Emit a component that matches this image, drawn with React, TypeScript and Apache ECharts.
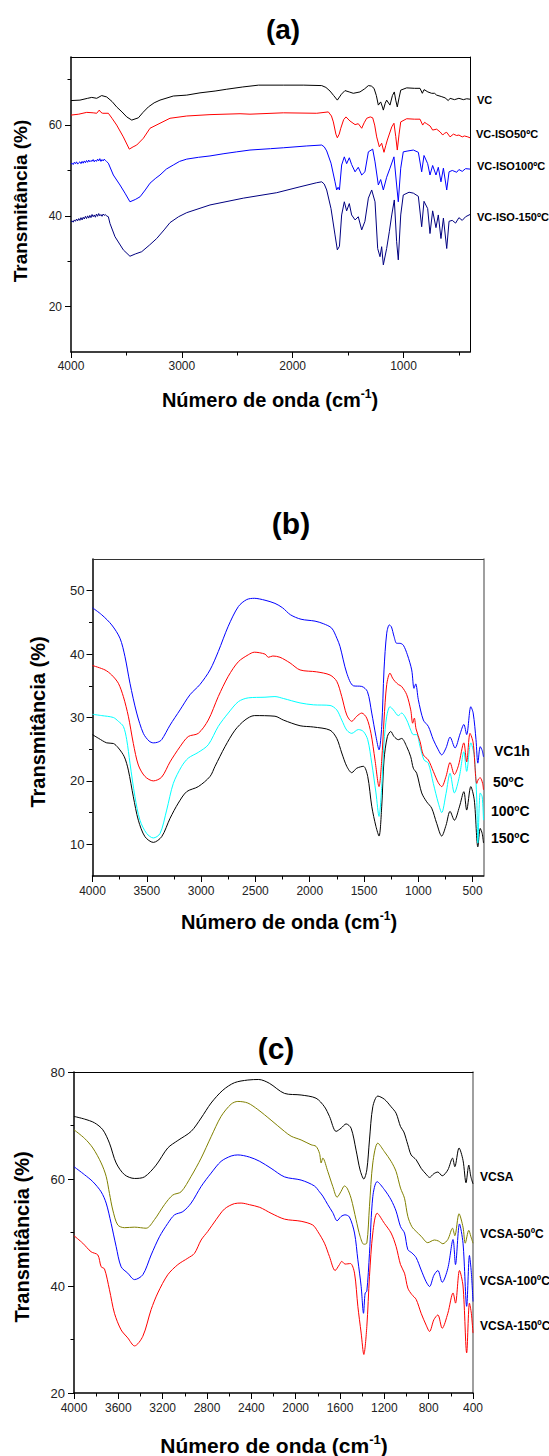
import React, { useEffect, useRef } from "react";
import * as echarts from "echarts";

const FONT = "'Liberation Sans', Arial, Helvetica, sans-serif";

// ---------- Chart (a) ----------
const aVC = [[4000,65.4],[3919,65.5],[3850,65.9],[3813,66.1],[3768,65.9],[3723,66.5],[3678,66.2],[3630,65.2],[3588,64.0],[3540,62.9],[3497,61.8],[3452,61.1],[3392,61.6],[3350,62.8],[3302,64.0],[3250,64.9],[3197,65.5],[3077,66.4],[2956,66.6],[2836,67.1],[2700,67.5],[2595,67.9],[2450,68.4],[2308,68.8],[2084,68.8],[1900,68.8],[1738,68.7],[1700,68.3],[1663,67.5],[1630,66.5],[1597,65.5],[1560,66.8],[1528,67.6],[1490,67.3],[1453,67.0],[1393,67.3],[1350,68.0],[1317,68.7],[1290,68.6],[1266,68.1],[1245,66.5],[1227,64.4],[1206,65.1],[1190,64.0],[1182,63.3],[1165,64.8],[1152,65.5],[1122,64.4],[1100,66.5],[1083,67.3],[1070,65.5],[1056,64.0],[1040,66.0],[1025,67.7],[971,68.2],[900,68.1],[851,68.1],[830,67.0],[815,67.8],[806,67.7],[780,67.3],[746,67.0],[720,67.0],[701,66.6],[660,66.3],[625,66.0],[596,65.4],[580,65.9],[540,65.6],[500,65.9],[460,65.6],[430,65.8],[400,65.7]];
const aISO50 = [[4000,62.2],[3930,62.4],[3858,62.8],[3800,62.7],[3768,62.6],[3745,63.3],[3730,62.8],[3714,62.6],[3663,62.6],[3630,61.5],[3588,60.0],[3528,57.4],[3474,54.7],[3440,55.2],[3407,55.6],[3347,57.1],[3287,59.3],[3197,60.4],[3107,61.5],[2956,62.0],[2746,62.3],[2475,62.5],[2385,62.4],[2084,62.7],[1783,62.6],[1678,62.9],[1650,62.0],[1633,60.7],[1610,58.0],[1597,57.2],[1580,58.0],[1566,59.3],[1540,61.2],[1519,61.8],[1483,60.9],[1437,60.1],[1408,60.3],[1377,59.3],[1355,60.5],[1332,61.5],[1300,61.8],[1278,61.6],[1260,60.0],[1242,57.4],[1218,55.2],[1197,56.0],[1176,54.0],[1160,55.5],[1146,56.7],[1106,59.6],[1086,60.4],[1070,57.5],[1056,54.5],[1040,58.0],[1025,60.7],[971,61.4],[900,61.3],[851,61.3],[827,60.0],[810,60.6],[791,60.3],[760,59.8],[737,58.9],[701,59.1],[670,58.5],[646,57.8],[630,58.2],[610,58.4],[580,57.4],[550,58.0],[520,57.7],[500,57.8],[470,57.4],[450,57.6],[420,57.4],[400,57.2]];
const aISO100 = [[4000,51.4],[3990,51.6],[3980,51.3],[3970,51.8],[3960,51.5],[3950,51.9],[3940,51.4],[3930,51.7],[3920,51.9],[3910,51.5],[3900,52.0],[3890,51.6],[3880,52.1],[3870,51.7],[3860,52.2],[3850,51.8],[3840,52.3],[3830,51.9],[3820,52.2],[3810,52.0],[3800,52.4],[3790,51.9],[3780,52.3],[3770,52.0],[3760,52.5],[3750,52.1],[3740,52.6],[3730,52.0],[3720,52.4],[3710,52.1],[3700,52.5],[3690,52.2],[3680,52.0],[3663,51.6],[3618,49.0],[3558,46.8],[3513,45.0],[3468,43.1],[3420,43.6],[3377,44.2],[3330,45.7],[3287,47.2],[3240,48.2],[3197,49.0],[3140,50.3],[3077,51.2],[3020,52.0],[2956,52.5],[2850,52.9],[2746,53.2],[2620,53.7],[2505,54.1],[2385,54.5],[2200,54.8],[2084,55.0],[1873,55.4],[1738,55.6],[1715,55.2],[1693,54.3],[1654,51.6],[1618,47.5],[1603,45.7],[1590,46.3],[1578,45.7],[1558,51.2],[1534,53.0],[1513,51.5],[1489,52.8],[1468,51.3],[1437,49.7],[1408,50.7],[1377,49.0],[1348,49.7],[1317,54.1],[1278,54.7],[1257,51.9],[1227,46.8],[1206,48.0],[1182,45.7],[1152,48.5],[1122,50.5],[1086,53.0],[1062,46.8],[1047,43.1],[1025,50.5],[1002,54.1],[960,54.3],[911,54.5],[866,54.0],[836,49.7],[815,53.3],[782,51.5],[761,49.0],[737,51.1],[707,49.0],[686,50.7],[662,47.5],[640,50.5],[610,45.7],[589,49.7],[560,50.0],[520,49.6],[500,50.2],[470,49.8],[440,50.4],[400,50.3]];
const aISO150 = [[4000,38.7],[3990,38.9],[3980,38.6],[3970,39.1],[3960,38.8],[3950,39.3],[3940,38.9],[3930,39.4],[3920,39.0],[3910,39.6],[3900,39.1],[3890,39.7],[3880,39.3],[3870,39.9],[3860,39.4],[3850,40.0],[3840,39.5],[3830,40.1],[3820,39.6],[3810,40.3],[3800,39.8],[3790,40.2],[3780,39.7],[3770,40.4],[3760,39.9],[3750,40.5],[3740,40.0],[3730,40.3],[3720,39.9],[3710,40.4],[3700,40.1],[3690,40.3],[3680,40.0],[3663,39.8],[3648,38.3],[3603,35.4],[3528,32.5],[3468,31.1],[3420,31.6],[3362,32.1],[3290,33.6],[3227,35.0],[3160,36.9],[3107,38.5],[3030,39.8],[2956,40.7],[2746,42.4],[2445,43.9],[2144,45.1],[1934,46.4],[1783,47.3],[1738,47.5],[1715,47.0],[1693,45.7],[1654,41.6],[1618,35.8],[1597,32.5],[1578,33.3],[1558,40.2],[1534,43.1],[1513,41.1],[1489,42.7],[1468,40.2],[1437,39.1],[1408,39.8],[1377,36.9],[1348,38.8],[1317,43.9],[1287,45.7],[1257,43.1],[1233,32.8],[1212,31.0],[1197,33.2],[1182,29.2],[1152,32.8],[1128,36.5],[1106,40.2],[1083,43.5],[1062,34.3],[1047,30.3],[1025,40.2],[1002,44.6],[950,45.2],[911,45.0],[866,44.3],[836,37.6],[815,43.2],[782,41.6],[761,36.1],[737,41.1],[707,37.4],[686,40.2],[662,35.0],[640,39.5],[610,32.8],[589,38.8],[560,39.0],[530,38.4],[500,39.6],[470,39.0],[440,39.8],[400,40.3]];
const aXMajor = [4000, 3000, 2000, 1000];
const aXMinor = [3500, 2500, 1500, 500];
const aYMajor = [20, 40, 60];
const aYMinor = [30, 50, 70];
const aNames = ["VC", "VC-ISO50ºC", "VC-ISO100ºC", "VC-ISO-150ºC"];

// ---------- Chart (b) ----------
const bVC1h = [[4000,47.3],[3915,46.2],[3823,44.6],[3747,42.5],[3701,39.6],[3655,35.4],[3593,30.7],[3532,27.5],[3480,26.3],[3440,26.0],[3400,26.1],[3363,26.5],[3286,28.8],[3194,31.2],[3102,33.6],[3011,35.2],[2918,37.5],[2842,40.4],[2750,44.4],[2657,47.5],[2580,48.6],[2510,48.8],[2412,48.5],[2320,48.0],[2250,47.3],[2177,46.2],[2080,45.5],[1951,45.2],[1875,44.8],[1798,44.1],[1750,42.5],[1721,41.2],[1659,37.0],[1598,35.0],[1521,34.9],[1469,34.1],[1429,30.7],[1390,27.0],[1362,24.9],[1337,28.6],[1316,37.5],[1291,43.3],[1267,44.6],[1248,44.3],[1224,42.8],[1199,41.7],[1169,41.7],[1138,41.4],[1101,39.9],[1061,37.5],[1040,34.6],[1024,35.3],[1000,32.8],[954,29.6],[908,28.6],[862,26.5],[816,24.9],[785,24.1],[745,25.2],[708,26.9],[662,25.2],[616,27.4],[581,28.9],[555,27.3],[517,31.7],[495,30.7],[469,26.5],[452,22.8],[430,25.4],[412,24.8],[400,23.8]];
const b50 = [[4000,38.2],[3885,37.5],[3823,36.7],[3762,35.4],[3716,33.3],[3670,30.2],[3624,25.9],[3578,22.5],[3517,20.7],[3440,20.0],[3363,20.6],[3286,23.0],[3194,25.4],[3118,27.0],[3026,27.5],[2934,29.6],[2842,33.3],[2750,36.5],[2657,38.8],[2565,39.9],[2510,40.3],[2412,40.0],[2380,39.5],[2340,39.7],[2274,39.5],[2181,38.6],[2089,37.5],[1936,37.2],[1813,36.7],[1751,35.7],[1705,33.3],[1659,30.4],[1613,29.4],[1567,30.2],[1521,30.7],[1475,29.9],[1436,27.5],[1399,23.3],[1362,19.1],[1337,23.3],[1316,29.6],[1291,35.2],[1261,37.0],[1237,36.2],[1215,35.7],[1184,35.2],[1154,34.9],[1107,33.6],[1070,31.2],[1052,29.1],[1037,29.9],[1021,28.2],[984,26.2],[954,24.1],[908,23.3],[862,21.5],[816,19.7],[785,19.1],[745,20.7],[708,22.9],[668,21.0],[631,22.4],[581,26.0],[555,23.0],[524,27.5],[495,26.0],[462,19.6],[446,20.3],[430,20.5],[408,19.6],[400,18.6]];
const b100 = [[4000,30.5],[3915,30.3],[3808,30.0],[3762,29.4],[3716,28.6],[3685,26.5],[3655,22.8],[3609,17.5],[3563,13.8],[3501,11.7],[3440,11.0],[3378,11.7],[3317,15.4],[3256,19.6],[3179,22.3],[3118,23.6],[3026,24.5],[2934,25.7],[2842,28.6],[2750,30.7],[2657,32.5],[2565,33.1],[2412,33.2],[2320,33.3],[2243,33.0],[2089,32.3],[1966,32.0],[1813,31.9],[1751,31.2],[1705,29.6],[1659,28.0],[1613,27.5],[1552,28.1],[1506,27.8],[1466,26.5],[1429,22.8],[1390,18.1],[1362,14.4],[1337,19.1],[1316,26.0],[1291,30.2],[1261,31.7],[1230,31.2],[1184,30.3],[1154,30.7],[1107,29.6],[1070,28.0],[1046,27.3],[1015,27.3],[984,25.4],[947,23.3],[908,22.8],[862,19.6],[816,16.5],[785,15.0],[745,18.0],[708,21.2],[668,18.1],[622,20.7],[581,24.6],[555,21.5],[517,26.0],[485,24.0],[462,17.0],[452,10.2],[430,18.1],[412,17.5],[400,13.8]];
const b150 = [[4000,27.3],[3943,26.7],[3869,26.0],[3808,25.9],[3762,25.2],[3707,23.8],[3670,21.7],[3624,17.5],[3578,13.8],[3517,11.2],[3440,10.3],[3363,11.2],[3286,14.1],[3210,16.5],[3133,18.3],[3026,19.1],[2918,20.7],[2872,22.3],[2780,25.4],[2688,28.0],[2596,29.6],[2510,30.3],[2320,30.2],[2243,29.6],[2089,28.7],[1966,28.5],[1813,28.0],[1751,26.7],[1705,24.4],[1659,22.3],[1613,21.3],[1567,22.0],[1506,22.3],[1466,20.7],[1429,16.0],[1390,12.8],[1362,11.3],[1337,16.0],[1316,23.3],[1285,27.0],[1254,27.8],[1224,27.0],[1184,26.5],[1154,26.7],[1107,25.4],[1070,23.8],[1046,22.0],[1015,21.2],[969,18.1],[923,16.7],[877,15.7],[831,13.3],[785,11.3],[745,13.0],[708,15.2],[668,13.8],[622,15.9],[581,18.3],[555,15.4],[517,19.1],[485,17.0],[452,9.6],[430,12.5],[412,11.7],[400,10.2]];
const bXMajor = [4000, 3500, 3000, 2500, 2000, 1500, 1000, 500];
const bXMinor = [3750, 3250, 2750, 2250, 1750, 1250, 750];
const bYMajor = [10, 20, 30, 40, 50];
const bYMinor = [15, 25, 35, 45];
const bNames = ["VC1h", "50ºC", "100ºC", "150ºC"];

// ---------- Chart (c) ----------
const cVCSA = [[4000,71.7],[3905,71.2],[3815,70.5],[3740,69.2],[3680,66.7],[3620,63.0],[3544,60.8],[3454,60.1],[3364,60.4],[3259,62.6],[3154,65.8],[3063,67.2],[2943,68.9],[2853,71.4],[2763,74.2],[2657,76.6],[2552,78.0],[2432,78.5],[2333,78.6],[2238,77.9],[2101,76.0],[1951,75.7],[1816,75.1],[1740,73.5],[1695,71.7],[1635,68.9],[1590,69.5],[1545,70.3],[1500,69.5],[1455,65.4],[1419,61.7],[1385,60.0],[1358,61.7],[1334,67.3],[1304,73.5],[1259,75.5],[1199,74.9],[1139,73.5],[1094,72.3],[1054,69.8],[1024,68.8],[988,66.4],[958,64.5],[913,63.6],[868,62.0],[823,60.9],[792,60.3],[753,61.0],[717,61.3],[678,60.6],[627,61.7],[585,63.9],[564,62.3],[526,65.8],[490,63.5],[463,59.3],[438,62.6],[420,60.5],[400,59.1]];
const cVCSA50 = [[4000,69.2],[3905,67.6],[3830,65.8],[3755,63.0],[3710,60.5],[3680,57.3],[3650,54.2],[3605,51.4],[3544,50.9],[3454,51.0],[3349,50.8],[3274,52.4],[3184,55.2],[3109,57.0],[3034,57.6],[2943,60.5],[2853,63.9],[2763,67.9],[2673,71.7],[2582,74.0],[2522,74.5],[2432,74.2],[2342,73.0],[2222,71.0],[2101,68.9],[2041,68.0],[1951,67.3],[1861,66.4],[1816,66.1],[1785,64.8],[1770,63.0],[1755,63.9],[1710,61.4],[1665,58.6],[1626,56.6],[1590,57.7],[1560,58.7],[1536,58.3],[1500,56.4],[1455,52.4],[1419,49.3],[1385,47.8],[1358,48.0],[1334,54.9],[1304,63.0],[1259,66.7],[1199,65.1],[1139,63.3],[1094,61.4],[1054,58.3],[1018,56.4],[988,53.0],[952,51.1],[913,50.2],[868,49.3],[808,48.1],[748,48.6],[711,48.4],[672,47.9],[627,48.7],[585,50.8],[564,49.4],[526,53.5],[490,51.0],[470,48.0],[438,50.4],[420,49.3],[400,48.0]];
const cVCSA100 = [[4000,62.3],[3905,60.8],[3830,59.5],[3755,57.6],[3710,55.5],[3665,51.7],[3620,47.4],[3575,43.6],[3515,42.4],[3454,41.2],[3379,42.1],[3304,45.8],[3229,49.2],[3154,51.7],[3093,53.3],[3018,53.9],[2943,55.5],[2853,58.6],[2763,61.1],[2673,63.3],[2582,64.3],[2522,64.5],[2417,64.1],[2324,63.3],[2222,62.0],[2101,60.4],[1951,59.8],[1831,58.7],[1785,57.6],[1755,56.8],[1710,55.2],[1665,53.7],[1626,52.2],[1590,53.0],[1554,53.3],[1515,52.9],[1469,49.9],[1439,44.9],[1409,39.9],[1388,34.9],[1373,38.7],[1358,39.0],[1334,46.1],[1304,56.7],[1265,59.5],[1199,58.0],[1139,56.1],[1094,54.0],[1054,51.1],[1018,49.9],[988,46.8],[952,46.2],[913,45.3],[868,43.0],[823,40.8],[792,39.9],[753,42.0],[717,42.9],[678,40.7],[627,43.3],[580,48.7],[558,44.0],[522,51.6],[490,48.0],[457,36.2],[432,45.7],[415,42.5],[400,37.1]];
const cVCSA150 = [[4000,49.4],[3921,48.0],[3846,46.4],[3785,45.8],[3755,43.6],[3725,43.2],[3680,39.3],[3635,34.9],[3575,31.8],[3515,30.3],[3454,28.8],[3379,30.6],[3304,35.6],[3244,38.7],[3154,42.1],[3063,44.0],[2973,45.2],[2913,46.1],[2853,48.6],[2793,50.2],[2718,52.4],[2642,54.4],[2552,55.4],[2492,55.5],[2417,55.2],[2324,54.7],[2222,53.6],[2101,52.5],[1951,52.1],[1846,51.4],[1801,50.2],[1740,48.0],[1695,45.5],[1644,42.9],[1605,44.0],[1584,44.6],[1554,44.1],[1506,44.2],[1469,42.4],[1439,36.2],[1409,31.2],[1385,27.2],[1358,32.4],[1334,41.8],[1304,49.9],[1265,53.6],[1199,51.7],[1139,49.9],[1094,47.4],[1054,44.0],[1018,42.4],[988,39.6],[952,38.4],[913,37.5],[868,34.9],[823,32.7],[792,31.5],[753,33.7],[717,34.6],[678,32.1],[627,34.9],[580,38.7],[558,36.8],[522,42.9],[490,40.0],[457,27.5],[432,36.8],[415,34.9],[400,31.2]];
const cXMajor = [4000, 3600, 3200, 2800, 2400, 2000, 1600, 1200, 800, 400];
const cXMinor = [3800, 3400, 3000, 2600, 2200, 1800, 1400, 1000, 600];
const cYMajor = [20, 40, 60, 80];
const cYMinor = [30, 50, 70];
const cNames = ["VCSA", "VCSA-50ºC", "VCSA-100ºC", "VCSA-150ºC"];

const X_TITLE = "{n|Número de onda (cm}{s|-1}{n|)}";
const Y_TITLE = "Transmitância (%)";

const plain = (v: number) => String(v);

// three x axes per grid: main (labels + major ticks), minor ticks, top frame line
function xAxes(grid: number, major: number[], minor: number[], margin: number, topColor: string) {
  const base = { type: "value", gridIndex: grid, min: 400, max: 4000, inverse: true, splitLine: { show: false } };
  return [
    { ...base, position: "bottom", axisLine: { show: true, onZero: false, lineStyle: { color: "#000", width: 1.5 } },
      axisTick: { show: true, inside: false, length: 6, customValues: major, lineStyle: { color: "#000", width: 1 } },
      axisLabel: { show: true, customValues: major, margin, fontSize: 12, color: "#222", fontFamily: FONT, formatter: plain } },
    { ...base, position: "bottom", axisLine: { show: false, onZero: false },
      axisTick: { show: true, inside: false, length: 3.5, customValues: minor, lineStyle: { color: "#000", width: 1 } },
      axisLabel: { show: false } },
    { ...base, position: "top", axisLine: { show: true, onZero: false, lineStyle: { color: topColor, width: 1 } },
      axisTick: { show: false }, axisLabel: { show: false } },
  ];
}
function yAxes(grid: number, min: number, max: number, major: number[], minor: number[], margin: number, fs: number, rightColor: string, rightWidth: number) {
  const base = { type: "value", gridIndex: grid, min, max, splitLine: { show: false } };
  return [
    { ...base, position: "left", axisLine: { show: true, onZero: false, lineStyle: { color: "#000", width: 1.5 } },
      axisTick: { show: true, inside: false, length: 6, customValues: major, lineStyle: { color: "#000", width: 1 } },
      axisLabel: { show: true, customValues: major, margin, fontSize: fs, color: "#222", fontFamily: FONT, formatter: plain } },
    { ...base, position: "left", axisLine: { show: false, onZero: false },
      axisTick: { show: true, inside: false, length: 3.5, customValues: minor, lineStyle: { color: "#000", width: 1 } },
      axisLabel: { show: false } },
    { ...base, position: "right", axisLine: { show: true, onZero: false, lineStyle: { color: rightColor, width: rightWidth } },
      axisTick: { show: false }, axisLabel: { show: false } },
  ];
}
function line(data: number[][], color: string, grid: number, smooth: number | boolean) {
  return { type: "line", xAxisIndex: grid * 3, yAxisIndex: grid * 3, data, color, showSymbol: false, symbol: "none", smooth,
    lineStyle: { color, width: 1 }, silent: true, animation: false };
}
function txt(x: number, y: number, text: string, size: number, align = "left", bold = true) {
  return { type: "text", x, y, silent: true,
    style: { text, fill: "#000", font: `${bold ? "bold " : ""}${size}px ${FONT}`, textAlign: align, textVerticalAlign: "middle" } };
}
function xTitle(x: number, y: number, size: number) {
  return { type: "text", x, y, silent: true,
    style: { text: X_TITLE, textAlign: "center", textVerticalAlign: "middle",
      rich: {
        n: { fontSize: size, fontWeight: "bold", fontFamily: FONT, fill: "#000", lineHeight: size + 4 },
        s: { fontSize: Math.round(size * 0.62), fontWeight: "bold", fontFamily: FONT, fill: "#000", verticalAlign: "top", lineHeight: size + 4 },
      } } };
}
function yTitle(x: number, y: number, size: number) {
  return { type: "text", x, y, rotation: Math.PI / 2, silent: true,
    style: { text: Y_TITLE, fill: "#000", font: `bold ${size}px ${FONT}`, textAlign: "center", textVerticalAlign: "middle" } };
}

export default function App() {
  const ref = useRef<HTMLDivElement>(null);
  useEffect(() => {
    if (!ref.current) return;
    const chart = echarts.init(ref.current, null, { renderer: "svg" });
    const option: any = {
      animation: false,
      backgroundColor: "#fff",
      grid: [
        { left: 71, top: 57, width: 399, height: 295, show: false, containLabel: false },
        { left: 92.5, top: 559, width: 391, height: 317, show: false, containLabel: false },
        { left: 74, top: 1072, width: 399, height: 321, show: false, containLabel: false },
      ],
      xAxis: [
        ...xAxes(0, aXMajor, aXMinor, 8, "#000"),
        ...xAxes(1, bXMajor, bXMinor, 9, "#333"),
        ...xAxes(2, cXMajor, cXMinor, 9, "#000"),
      ],
      yAxis: [
        ...yAxes(0, 10, 75, aYMajor, aYMinor, 9, 12, "#000", 1),
        ...yAxes(1, 5, 55, bYMajor, bYMinor, 8, 13, "#888", 1.6),
        ...yAxes(2, 20, 80, cYMajor, cYMinor, 9, 13, "#888", 1.6),
      ],
      series: [
        line(aVC, "#000000", 0, false),
        line(aISO50, "#ff0000", 0, false),
        line(aISO100, "#0000ff", 0, false),
        line(aISO150, "#000080", 0, false),
        line(b150, "#000000", 1, 0.3),
        line(b100, "#00ffff", 1, 0.3),
        line(b50, "#ff0000", 1, 0.3),
        line(bVC1h, "#0000ff", 1, 0.3),
        line(cVCSA, "#000000", 2, 0.3),
        line(cVCSA50, "#808000", 2, 0.3),
        line(cVCSA100, "#0000ff", 2, 0.3),
        line(cVCSA150, "#ff0000", 2, 0.3),
      ],
      graphic: [
        txt(283, 29, "(a)", 28, "center"),
        txt(291, 523, "(b)", 30, "center"),
        txt(276, 1048, "(c)", 30, "center"),
        xTitle(270, 400, 20),
        xTitle(289, 922, 20),
        xTitle(274, 1445, 21),
        yTitle(20, 201, 19),
        yTitle(38, 722, 20),
        yTitle(22, 1237, 20),
        txt(477, 100, aNames[0], 11),
        txt(476, 134, aNames[1], 11),
        txt(477, 166, aNames[2], 11),
        txt(477, 217, aNames[3], 11),
        txt(494, 751, bNames[0], 14),
        txt(493, 782, bNames[1], 14),
        txt(491, 811, bNames[2], 14),
        txt(491, 838, bNames[3], 14),
        txt(480, 1177, cNames[0], 12),
        txt(480, 1234, cNames[1], 12),
        txt(479.5, 1281, cNames[2], 12),
        txt(480, 1326, cNames[3], 12),
      ],
    };
    chart.setOption(option);
    return () => chart.dispose();
  }, []);
  return <div ref={ref} style={{ position: "absolute", left: 0, top: 0, width: 549, height: 1456 }} />;
}
